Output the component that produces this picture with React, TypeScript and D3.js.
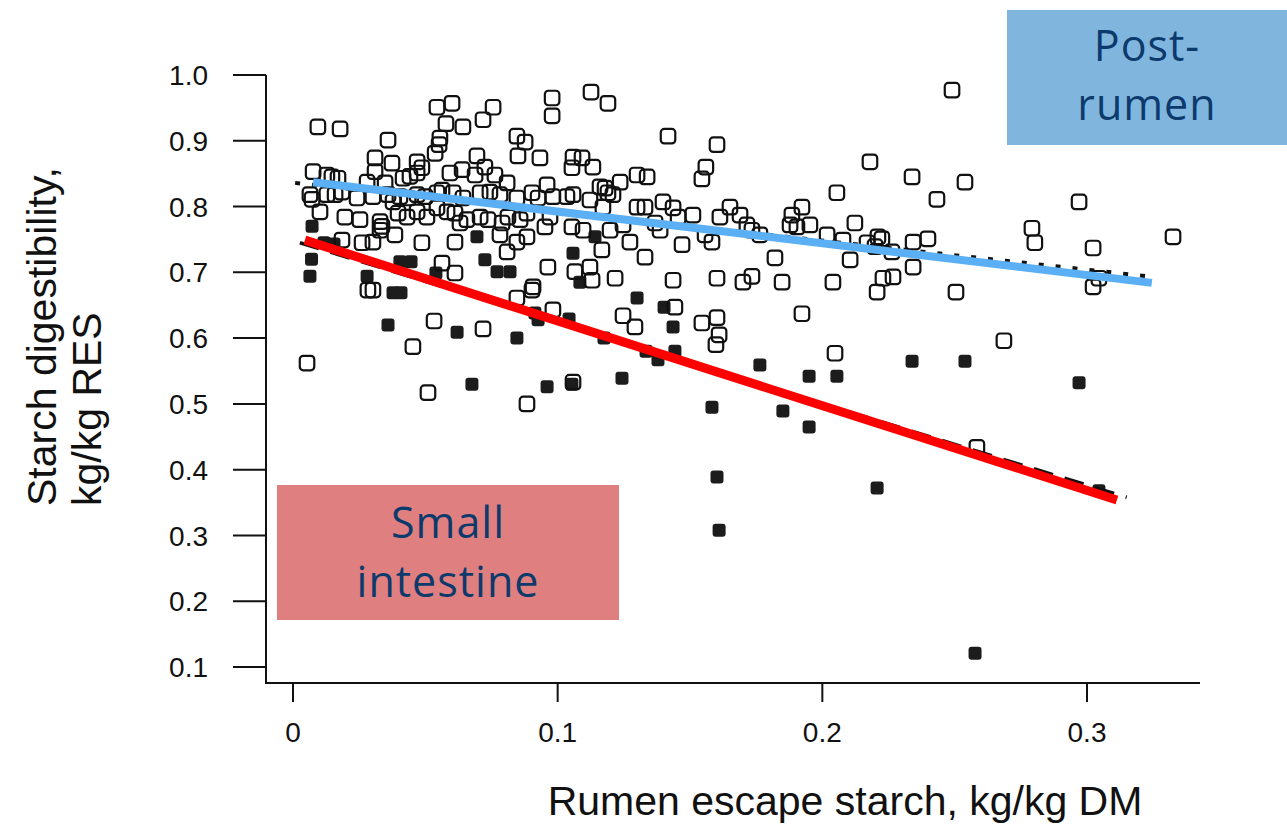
import React from "react";
import * as d3 from "d3";

// Post-rumen starch digestibility observations (open squares): [escape starch, digestibility]
const postRumenPoints: [number, number][] = [
  [0.0544, 0.951], [0.0601, 0.957], [0.0756, 0.951], [0.0979, 0.965], [0.0979, 0.938],
  [0.0094, 0.921], [0.0178, 0.918], [0.0578, 0.926], [0.0642, 0.921], [0.0718, 0.932],
  [0.0846, 0.907], [0.0877, 0.898], [0.0359, 0.901], [0.0555, 0.904], [0.0552, 0.894],
  [0.0537, 0.881], [0.085, 0.877], [0.0933, 0.874], [0.0695, 0.877], [0.031, 0.874],
  [0.0374, 0.866], [0.0469, 0.868], [0.0487, 0.859], [0.031, 0.853], [0.0076, 0.853],
  [0.0128, 0.848], [0.0147, 0.845], [0.017, 0.843], [0.0639, 0.856], [0.0593, 0.851],
  [0.0725, 0.86], [0.0688, 0.848], [0.0763, 0.848], [0.0416, 0.843], [0.0442, 0.846],
  [0.0469, 0.851], [0.028, 0.837], [0.0348, 0.836], [0.0809, 0.836], [0.096, 0.833],
  [0.0064, 0.818], [0.0072, 0.811], [0.0128, 0.818], [0.0159, 0.818], [0.0185, 0.822],
  [0.0242, 0.813], [0.0302, 0.815], [0.0359, 0.818], [0.0378, 0.807], [0.0404, 0.815],
  [0.0435, 0.813], [0.0469, 0.818], [0.0499, 0.815], [0.0544, 0.821], [0.0563, 0.825],
  [0.0605, 0.821], [0.0642, 0.813], [0.0707, 0.821], [0.0744, 0.822], [0.0782, 0.818],
  [0.0846, 0.813], [0.0903, 0.821], [0.0926, 0.813], [0.0982, 0.815], [0.0102, 0.792],
  [0.0196, 0.784], [0.0253, 0.78], [0.0329, 0.777], [0.0336, 0.77], [0.0397, 0.79],
  [0.0431, 0.784], [0.0469, 0.792], [0.0506, 0.784], [0.0544, 0.798], [0.0582, 0.792],
  [0.0612, 0.79], [0.0631, 0.775], [0.0657, 0.78], [0.0707, 0.784], [0.0737, 0.78],
  [0.079, 0.775], [0.0812, 0.784], [0.0858, 0.78], [0.0884, 0.79], [0.0952, 0.769],
  [0.0971, 0.784], [0.0329, 0.764], [0.0385, 0.757], [0.0185, 0.749], [0.0261, 0.745],
  [0.0302, 0.746], [0.0487, 0.745], [0.0612, 0.746], [0.0782, 0.757], [0.0846, 0.746],
  [0.0884, 0.754], [0.0809, 0.731], [0.0563, 0.714], [0.0612, 0.699], [0.0963, 0.708],
  [0.0907, 0.678], [0.1065, 0.701],
  [0.1126, 0.974], [0.119, 0.957], [0.1417, 0.907], [0.1602, 0.894], [0.218, 0.868],
  [0.156, 0.86], [0.1545, 0.842], [0.1058, 0.875], [0.1092, 0.874], [0.1054, 0.859],
  [0.1133, 0.86], [0.13, 0.848], [0.1338, 0.845], [0.1236, 0.837], [0.116, 0.83],
  [0.1179, 0.828], [0.119, 0.821], [0.1209, 0.818], [0.1058, 0.818], [0.1035, 0.815],
  [0.1122, 0.81], [0.1171, 0.799], [0.13, 0.799], [0.133, 0.799], [0.1398, 0.807],
  [0.1436, 0.798], [0.1455, 0.784], [0.1511, 0.787], [0.1613, 0.784], [0.1651, 0.799],
  [0.1689, 0.787], [0.2055, 0.821], [0.2123, 0.775], [0.1885, 0.787], [0.1923, 0.799],
  [0.1904, 0.769], [0.1953, 0.772], [0.1878, 0.772], [0.2018, 0.757], [0.2078, 0.749],
  [0.2105, 0.719], [0.2169, 0.745], [0.2199, 0.739], [0.221, 0.754], [0.1715, 0.772],
  [0.1734, 0.764], [0.1764, 0.757], [0.1821, 0.722], [0.1557, 0.757], [0.1583, 0.746],
  [0.147, 0.742], [0.1387, 0.764], [0.1368, 0.775], [0.1273, 0.746], [0.133, 0.723],
  [0.1247, 0.772], [0.1198, 0.764], [0.1167, 0.734], [0.1054, 0.769], [0.1096, 0.764],
  [0.1122, 0.708], [0.113, 0.688], [0.1217, 0.691], [0.1436, 0.688], [0.1602, 0.691],
  [0.17, 0.685], [0.1734, 0.694], [0.1848, 0.685], [0.204, 0.685],
  [0.249, 0.977], [0.2339, 0.845], [0.2539, 0.837], [0.2433, 0.811], [0.297, 0.807],
  [0.2792, 0.767], [0.2803, 0.745], [0.3023, 0.737], [0.3325, 0.754], [0.2225, 0.751],
  [0.2343, 0.746], [0.2399, 0.751], [0.2263, 0.731], [0.2343, 0.708], [0.2229, 0.691],
  [0.2267, 0.693], [0.2207, 0.67], [0.2505, 0.67], [0.3023, 0.678], [0.3045, 0.691],
  [0.0283, 0.673], [0.0302, 0.673], [0.0053, 0.562], [0.0533, 0.626], [0.0453, 0.587],
  [0.051, 0.517], [0.0718, 0.614], [0.0884, 0.5], [0.0846, 0.661], [0.0903, 0.673],
  [0.0982, 0.643], [0.1058, 0.533],
  [0.1443, 0.647], [0.1247, 0.634], [0.1292, 0.617], [0.1545, 0.623], [0.1602, 0.631],
  [0.161, 0.605], [0.1598, 0.59], [0.1923, 0.637], [0.2048, 0.577],
  [0.2686, 0.596], [0.2584, 0.434],
];

// Small-intestine starch digestibility observations (filled squares)
const smallIntestinePoints: [number, number][] = [
  [0.0072, 0.77], [0.007, 0.72], [0.0064, 0.694], [0.0117, 0.745], [0.0155, 0.743],
  [0.028, 0.694], [0.0378, 0.669], [0.0408, 0.669], [0.0404, 0.716], [0.0446, 0.716],
  [0.0359, 0.62], [0.054, 0.699], [0.062, 0.609], [0.0676, 0.53], [0.0695, 0.754],
  [0.0725, 0.719], [0.0771, 0.701], [0.082, 0.701], [0.0846, 0.6], [0.0914, 0.638],
  [0.0926, 0.628], [0.096, 0.526], [0.1043, 0.629], [0.1054, 0.53], [0.1058, 0.729],
  [0.1084, 0.685], [0.1141, 0.754], [0.1175, 0.6], [0.1243, 0.539], [0.13, 0.661],
  [0.1334, 0.58], [0.1379, 0.567], [0.1402, 0.647], [0.1436, 0.617], [0.1443, 0.58],
  [0.1583, 0.495], [0.1602, 0.389], [0.161, 0.308], [0.1764, 0.559], [0.1851, 0.489],
  [0.195, 0.542], [0.195, 0.465], [0.2055, 0.542], [0.2207, 0.372], [0.2339, 0.565],
  [0.2539, 0.565], [0.2577, 0.121], [0.297, 0.532], [0.3045, 0.368],
];

// Fitted response lines (end points)
const postRumenFitX = [0.0076, 0.3245];
const postRumenFitY = [0.837, 0.684];
const postRumenAltFitX = [0.0008, 0.325];
const postRumenAltFitY = [0.836, 0.693];
const smallIntFitX = [0.0045, 0.3113];
const smallIntFitY = [0.749, 0.354];
const smallIntAltFitX = [0.0026, 0.315];
const smallIntAltFitY = [0.745, 0.358];

// Axis ticks
const xTicks = [0, 0.1, 0.2, 0.3];
const xTickLabels = ["0", "0.1", "0.2", "0.3"];
const yTicks = [0.1, 0.2, 0.3, 0.4, 0.5, 0.6, 0.7, 0.8, 0.9, 1.0];
const yTickLabels = ["0.1", "0.2", "0.3", "0.4", "0.5", "0.6", "0.7", "0.8", "0.9", "1.0"];

// Site label lines
const postRumenLabel = ["Post-", "rumen"];
const smallIntLabel = ["Small", "intestine"];

// Axis frame extent in data units
const xFrameMin = -0.0102;
const xFrameMax = 0.3427;
const yFrameMin = 0.0757;

const W = 1287;
const H = 829;
const axisFont = "'Liberation Sans', Arial, Helvetica, sans-serif";
const boxFont = "'Open Sans', 'Noto Sans', sans-serif";
const navy = "#0d3a6c";

export default function App() {
  const x = d3.scaleLinear().domain([0, 0.3]).range([293, 1087]);
  const y = d3.scaleLinear().domain([0.1, 1.0]).range([667, 75]);

  const fitPath = (xs: number[], ys: number[]) =>
    d3.line<number>()
      .x((_, i) => x(xs[i]))
      .y((_, i) => y(ys[i]))(xs.map((_, i) => i)) || "";

  const frameLeft = x(xFrameMin);
  const frameBottom = y(yFrameMin);
  const frameRight = x(xFrameMax);

  const openSize = 14.5;
  const fillSize = 13;

  const boxFontSize = 43;

  return (
    <svg
      width={W}
      height={H}
      viewBox={`0 0 ${W} ${H}`}
      style={{ position: "absolute", left: 0, top: 0, display: "block", background: "#fff" }}
    >
      <rect x={0} y={0} width={W} height={H} fill="#fff" />

      {/* axis frame */}
      <path
        d={`M${frameLeft},${y(1.0)}V${frameBottom}H${frameRight}`}
        fill="none"
        stroke="#111"
        strokeWidth={2}
      />
      {yTicks.map((t, i) => (
        <g key={"yt" + i}>
          <line x1={frameLeft - 33} x2={frameLeft} y1={y(t)} y2={y(t)} stroke="#111" strokeWidth={2} />
          <text
            x={208}
            y={y(t)}
            dy="0.36em"
            textAnchor="end"
            fontFamily={axisFont}
            fontSize={28}
            fill="#111"
          >
            {yTickLabels[i]}
          </text>
        </g>
      ))}
      {xTicks.map((t, i) => (
        <g key={"xt" + i}>
          <line x1={x(t)} x2={x(t)} y1={frameBottom} y2={frameBottom + 19} stroke="#111" strokeWidth={2} />
          <text
            x={x(t)}
            y={742}
            textAnchor="middle"
            fontFamily={axisFont}
            fontSize={28}
            fill="#111"
          >
            {xTickLabels[i]}
          </text>
        </g>
      ))}

      {/* axis titles */}
      <text
        x={845}
        y={815}
        textAnchor="middle"
        fontFamily={axisFont}
        fontSize={41}
        fill="#111"
      >
        Rumen escape starch, kg/kg DM
      </text>
      <text
        transform="translate(56,506) rotate(-90)"
        textAnchor="start"
        fontFamily={axisFont}
        fontSize={41}
        fill="#111"
      >
        <tspan x={0} y={0}>Starch digestibility,</tspan>
        <tspan x={0} y={45}>kg/kg RES</tspan>
      </text>

      {/* observations */}
      <g>
        {smallIntestinePoints.map(([px, py], i) => (
          <rect
            key={"si" + i}
            x={x(px) - fillSize / 2}
            y={y(py) - fillSize / 2}
            width={fillSize}
            height={fillSize}
            rx={3}
            fill="#1c1c1c"
          />
        ))}
        {postRumenPoints.map(([px, py], i) => (
          <rect
            key={"pr" + i}
            x={x(px) - openSize / 2}
            y={y(py) - openSize / 2}
            width={openSize}
            height={openSize}
            rx={3.5}
            fill="none"
            stroke="#111"
            strokeWidth={2.2}
          />
        ))}
      </g>

      {/* fitted lines */}
      <path
        d={fitPath(postRumenAltFitX, postRumenAltFitY)}
        fill="none"
        stroke="#111"
        strokeWidth={4}
        strokeDasharray="5 12"
      />
      <path
        d={fitPath(smallIntAltFitX, smallIntAltFitY)}
        fill="none"
        stroke="#111"
        strokeWidth={3.5}
        strokeDasharray="20 12"
      />
      <path d={fitPath(postRumenFitX, postRumenFitY)} fill="none" stroke="#5aaff5" strokeWidth={8} />
      <path d={fitPath(smallIntFitX, smallIntFitY)} fill="none" stroke="#ff0000" strokeWidth={9} />

      {/* site labels */}
      <rect x={1007} y={10} width={W - 1007} height={135} fill="#80b6de" />
      <text textAnchor="middle" fontFamily={boxFont} fontSize={boxFontSize} letterSpacing={1} fill={navy}>
        <tspan x={1147} y={61}>{postRumenLabel[0]}</tspan>
        <tspan x={1147} y={120}>{postRumenLabel[1]}</tspan>
      </text>

      <rect x={277} y={485} width={342} height={135} fill="#e07f7f" />
      <text textAnchor="middle" fontFamily={boxFont} fontSize={boxFontSize} letterSpacing={1} fill={navy}>
        <tspan x={448} y={538}>{smallIntLabel[0]}</tspan>
        <tspan x={448} y={597}>{smallIntLabel[1]}</tspan>
      </text>
    </svg>
  );
}
